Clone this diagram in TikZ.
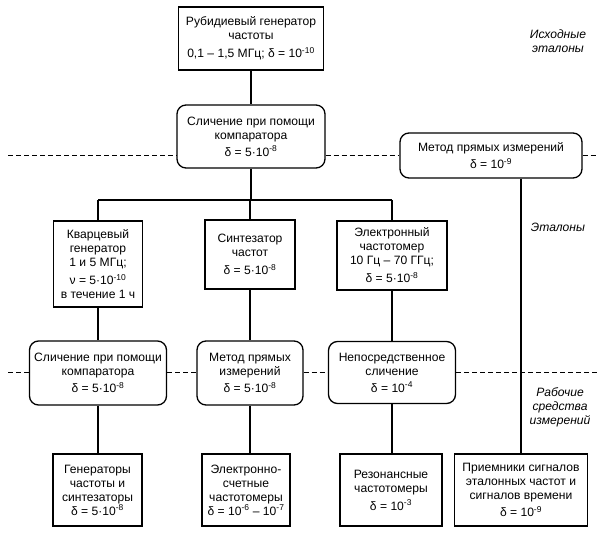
\documentclass[tikz,border=0pt]{standalone}
\usepackage{fontspec}
\setmainfont{Liberation Sans}
\newcommand\boxfont{\fontsize{12.1bp}{14bp}\selectfont}
\newcommand\sx[1]{\textsuperscript{#1}}
\begin{document}
\begin{tikzpicture}[x=1bp,y=-1bp,
  box/.style={draw, line width=1.3bp, align=center, inner sep=0pt, font=\boxfont},
  sqbox/.style={box},
  rbox/.style={box, rounded corners=9bp},
  conn/.style={line width=1.2bp},
  dl/.style={line width=1bp, dash pattern=on 5bp off 3bp},
  lbl/.style={font=\boxfont\itshape, align=center, inner sep=0pt}]
\useasboundingbox (0,0) rectangle (600,549);
% top
\node[sqbox, minimum width=145bp, minimum height=63bp] (A) at (251,38.5)
  {Рубидиевый генератор\\частоты\\[4bp]0,1 – 1,5 МГц; δ = 10\sx{-10}};
\node[rbox, minimum width=148bp, minimum height=63bp] (B) at (251,136.5)
  {Сличение при помощи\\компаратора\\[3bp]δ = 5·10\sx{-8}};
\node[rbox, minimum width=182bp, minimum height=45bp] (C) at (491,155.5)
  {Метод прямых измерений\\[3bp]δ = 10\sx{-9}};
% row 3
\node[sqbox, minimum width=89bp, minimum height=86bp] (E1) at (98,264)
  {Кварцевый\\генератор\\1 и 5 МГц;\\[4bp]ν = 5·10\sx{-10}\\в течение 1 ч};
\node[sqbox, minimum width=90bp, minimum height=69bp] (E2) at (250,254.5)
  {Синтезатор\\частот\\[4bp]δ = 5·10\sx{-8}};
\node[sqbox, minimum width=110bp, minimum height=69bp] (E3) at (392,255.5)
  {Электронный\\частотомер\\10 Гц – 70 ГГц;\\[4bp]δ = 5·10\sx{-8}};
% row 4
\node[rbox, minimum width=137bp, minimum height=64bp] (F1) at (98,373)
  {Сличение при помощи\\компаратора\\[3bp]δ = 5·10\sx{-8}};
\node[rbox, minimum width=106bp, minimum height=64bp] (F2) at (250,373)
  {Метод прямых\\измерений\\[3bp]δ = 5·10\sx{-8}};
\node[rbox, minimum width=127bp, minimum height=62bp] (F3) at (392,372.5)
  {Непосредственное\\сличение\\[3bp]δ = 10\sx{-4}};
% row 5
\node[sqbox, minimum width=89bp, minimum height=72bp] (G1) at (97.5,490)
  {Генераторы\\частоты и\\синтезаторы\\δ = 5·10\sx{-8}};
\node[sqbox, minimum width=88bp, minimum height=72bp] (G2) at (246,490)
  {Электронно-\\счетные\\частотомеры\\δ = 10\sx{-6} – 10\sx{-7}};
\node[sqbox, minimum width=102bp, minimum height=72bp] (G3) at (391,490)
  {Резонансные\\частотомеры\\[4bp]δ = 10\sx{-3}};
\node[sqbox, minimum width=133bp, minimum height=72bp] (G4) at (521,490)
  {Приемники сигналов\\эталонных частот и\\сигналов времени\\[3bp]δ = 10\sx{-9}};
% labels
\node[lbl] (L1) at (558,41) {Исходные\\эталоны};
\node[lbl] (L2) at (558,227) {Эталоны};
\node[lbl] (L3) at (560,407) {Рабочие\\средства\\измерений};
% connectors
\coordinate (bar) at (0,200);
\draw[conn] (A) -- (B);
\draw[conn] (B.south) -- (B.south |- bar);
\draw[conn] (E1.north |- bar) -- (E3.north |- bar);
\draw[conn] (E1.north |- bar) -- (E1.north);
\draw[conn] (E2.north |- bar) -- (E2.north);
\draw[conn] (E3.north |- bar) -- (E3.north);
\draw[conn] (E1) -- (F1);
\draw[conn] (E2) -- (F2);
\draw[conn] (E3) -- (F3);
\draw[conn] (F1.south) -- (F1.south |- G1.north);
\draw[conn] (F2.south) -- (F2.south |- G2.north);
\draw[conn] (F3.south) -- (F3.south |- G3.north);
\draw[conn] (C.south -| G4.north) -- (G4.north);
% dashed level lines
\coordinate (d1l) at (8,156);
\coordinate (d1r) at (597,156);
\draw[dl] (d1l) -- (B.west |- d1l);
\draw[dl] (B.east |- d1l) -- (C.west |- d1l);
\draw[dl] (C.east |- d1l) -- (d1r);
\coordinate (d2l) at (8,372);
\coordinate (d2r) at (597,372);
\draw[dl] (d2l) -- (F1.west |- d2l);
\draw[dl] (F1.east |- d2l) -- (F2.west |- d2l);
\draw[dl] (F2.east |- d2l) -- (F3.west |- d2l);
\draw[dl] (F3.east |- d2l) -- (d2r);
\end{tikzpicture}
\end{document}
